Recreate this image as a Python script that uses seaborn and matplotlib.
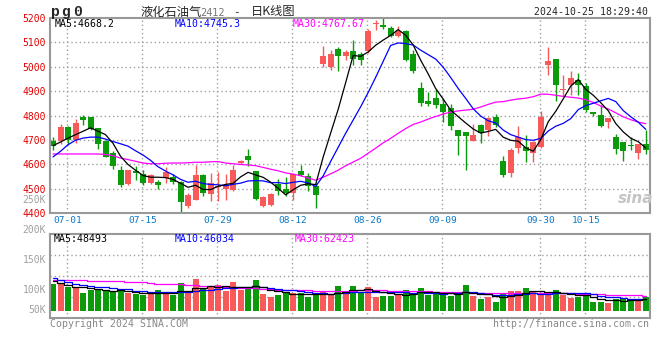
import numpy as np
import pandas as pd
import matplotlib
matplotlib.use("Agg")
import matplotlib.pyplot as plt
import matplotlib.transforms as mtransforms
import seaborn as sns

# pg0 daily bars, 2024-06-27 .. 2024-10-25 (80 trading days)
opens = [4697, 4697, 4752, 4701, 4793, 4793, 4751, 4695, 4646, 4579,
         4521, 4575, 4561, 4524, 4530, 4545, 4550, 4528, 4429, 4456,
         4558, 4479, 4508, 4500, 4497, 4604, 4636, 4575, 4429, 4436,
         4520, 4501, 4483, 4572, 4554, 4513, 5013, 4999, 5074, 5043,
         5066, 5054, 5063, 5176, 5170, 5158, 5127, 5145, 5054, 4913,
         4861, 4872, 4849, 4831, 4742, 4731, 4697, 4763, 4742, 4794,
         4616, 4565, 4666, 4671, 4647, 4671, 5006, 5031, 4906, 4926,
         4947, 4922, 4816, 4804, 4776, 4711, 4691, 4678, 4647, 4685]
highs = [4711, 4767, 4756, 4786, 4804, 4794, 4751, 4701, 4654, 4595,
         4579, 4595, 4579, 4561, 4535, 4588, 4562, 4531, 4483, 4599,
         4562, 4565, 4568, 4562, 4599, 4620, 4665, 4575, 4470, 4483,
         4542, 4547, 4562, 4599, 4565, 4524, 5086, 5070, 5082, 5070,
         5111, 5059, 5155, 5190, 5200, 5168, 5168, 5150, 5070, 4936,
         4895, 4909, 4872, 4849, 4742, 4731, 4766, 4766, 4794, 4808,
         4633, 4667, 4756, 4722, 4695, 4821, 5083, 5031, 4967, 4981,
         4974, 4933, 4816, 4845, 4789, 4725, 4691, 4712, 4685, 4742]
lows = [4658, 4685, 4681, 4688, 4760, 4742, 4663, 4631, 4581, 4508,
        4517, 4535, 4517, 4521, 4500, 4524, 4521, 4404, 4422, 4453,
        4470, 4452, 4452, 4453, 4493, 4600, 4592, 4453, 4425, 4431,
        4476, 4472, 4453, 4551, 4493, 4422, 4999, 4985, 4982, 5026,
        5009, 5006, 5056, 5152, 5155, 5122, 5122, 5025, 4975, 4838,
        4838, 4830, 4772, 4742, 4640, 4579, 4695, 4688, 4715, 4753,
        4549, 4547, 4647, 4609, 4609, 4667, 4965, 4858, 4879, 4886,
        4886, 4813, 4797, 4752, 4749, 4644, 4615, 4661, 4624, 4644]
closes = [4674, 4753, 4701, 4771, 4781, 4745, 4682, 4632, 4592, 4517,
          4576, 4565, 4524, 4557, 4517, 4568, 4527, 4446, 4475, 4558,
          4483, 4524, 4512, 4515, 4579, 4616, 4617, 4459, 4466, 4481,
          4490, 4483, 4562, 4558, 4511, 4474, 5045, 5054, 5043, 5059,
          5032, 5026, 5145, 5180, 5165, 5128, 5145, 5029, 4981, 4852,
          4848, 4845, 4813, 4756, 4718, 4718, 4722, 4729, 4790, 4760,
          4558, 4658, 4711, 4654, 4691, 4794, 5025, 4926, 4908, 4954,
          4926, 4824, 4805, 4756, 4789, 4663, 4654, 4675, 4685, 4661]

# price moving averages as drawn on the chart
ma5 = [4677, 4692, 4708, 4722, 4736, 4750.2, 4736, 4722.2, 4686.4, 4633.6,
       4599.8, 4576.4, 4554.8, 4547.8, 4547.8, 4546.2, 4538.6, 4523, 4506.6, 4514.8,
       4497.8, 4497.2, 4510.4, 4518.4, 4522.6, 4549.2, 4567.8, 4557.2, 4547.4, 4527.8,
       4502.6, 4475.8, 4496.4, 4514.8, 4520.8, 4517.6, 4630, 4728.4, 4825.4, 4935,
       5046.6, 5042.8, 5061, 5088.4, 5109.6, 5128.8, 5152.6, 5129.4, 5089.6, 5027,
       4971, 4911, 4867.8, 4822.8, 4796, 4770, 4745.4, 4728.6, 4735.4, 4743.8,
       4711.8, 4699, 4695.4, 4668.2, 4654.4, 4701.6, 4775, 4818, 4868.8, 4921.4,
       4947.8, 4907.6, 4883.4, 4853, 4820, 4767.4, 4733.4, 4707.4, 4693.2, 4667.6]
ma10 = [4631, 4654, 4681, 4699, 4708, 4712, 4712, 4704, 4694, 4684.8,
        4675, 4656.2, 4638.5, 4617.1, 4590.7, 4573, 4557.5, 4538.9, 4527.2, 4531.3,
        4522, 4517.9, 4516.7, 4512.5, 4518.7, 4523.5, 4532.5, 4533.8, 4532.9, 4525.2,
        4525.9, 4521.8, 4526.8, 4531.1, 4524.3, 4510.1, 4552.9, 4612.4, 4670.1, 4727.9,
        4782.1, 4836.4, 4894.7, 4956.9, 5022.3, 5087.7, 5097.7, 5095.2, 5089, 5068.3,
        5049.9, 5031.8, 4998.6, 4956.2, 4911.5, 4870.5, 4828.2, 4798.2, 4779.1, 4769.9,
        4740.9, 4722.2, 4712, 4701.8, 4699.1, 4706.7, 4737, 4756.7, 4768.5, 4787.9,
        4824.7, 4841.3, 4850.7, 4860.9, 4870.7, 4857.6, 4820.5, 4795.4, 4773.1, 4743.8]
ma30 = [4643, 4643, 4643, 4643, 4643, 4643, 4643, 4641, 4636, 4626,
        4620, 4613, 4606, 4603, 4603, 4605, 4606, 4606, 4607, 4609,
        4609, 4611, 4612, 4606, 4603, 4600, 4598, 4595, 4588, 4580.4,
        4574.3, 4565.3, 4560.7, 4553.6, 4544.6, 4535.5, 4547.6, 4561.7, 4576.7, 4594.8,
        4610, 4625.4, 4646.1, 4666.8, 4688.4, 4707.1, 4727.7, 4747.1, 4764, 4773.8,
        4786, 4796.7, 4806.7, 4814.7, 4819.4, 4822.8, 4826.3, 4835.3, 4846.1, 4855.4,
        4857.6, 4863.5, 4868.4, 4871.6, 4877.6, 4888.3, 4887.6, 4883.4, 4878.9, 4875.4,
        4871.8, 4865.1, 4853.8, 4839.6, 4827.1, 4811.6, 4795.2, 4783.4, 4773.6, 4767.2]

# volume (K, against the chart's own volume scale)
volumes = [110.5, 112.5, 105.8, 105.5, 95.5, 100.0, 101.6, 100.5, 96.6, 100.2,
           95.8, 94.0, 92.5, 94.5, 100.3, 96.8, 92.5, 112.2, 95.0, 118.8,
           102.7, 105.7, 108.9, 99.4, 113.5, 100.2, 102.7, 117.1, 93.9, 89.1,
           92.2, 95.0, 96.1, 95.5, 89.1, 91.8, 98.9, 92.2, 107.2, 94.1,
           107.2, 97.7, 105.2, 88.5, 91.0, 91.0, 93.5, 100.5, 94.1, 103.9,
           92.5, 95.7, 94.4, 90.8, 92.2, 108.9, 90.8, 85.2, 88.2, 80.8,
           95.5, 98.9, 98.9, 103.9, 97.8, 94.1, 92.7, 100.5, 92.7, 87.2,
           89.4, 91.3, 80.5, 80.5, 78.9, 86.1, 86.1, 86.1, 82.8, 88.8]
vol_ma5 = [115, 112, 108, 105, 106.0, 103.9, 101.7, 100.6, 98.8, 99.8,
           98.9, 97.4, 95.8, 95.4, 95.4, 95.6, 95.3, 99.3, 99.4, 103.1,
           104.2, 106.9, 106.2, 107.1, 106.0, 105.5, 104.9, 106.6, 105.5, 100.6,
           99.0, 97.5, 93.3, 93.6, 93.6, 93.5, 94.3, 93.5, 95.8, 96.8,
           99.9, 99.7, 102.3, 98.5, 97.9, 94.7, 93.8, 92.9, 94.0, 96.6,
           96.9, 97.3, 96.1, 95.5, 93.1, 96.4, 95.4, 93.6, 93.1, 90.8,
           88.1, 89.7, 92.5, 95.6, 99.0, 98.7, 97.5, 97.8, 95.6, 93.4,
           92.5, 92.2, 88.2, 85.8, 84.1, 83.5, 82.4, 83.5, 84.0, 86.0]
vol_ma10 = [120, 117, 113, 110, 108, 107, 106, 105, 104, 102.9,
            101.4, 99.6, 98.2, 97.1, 97.6, 97.3, 96.4, 97.5, 97.4, 99.2,
            99.9, 101.1, 102.7, 103.2, 104.6, 104.9, 105.9, 106.4, 106.3, 103.3,
            102.3, 101.2, 99.9, 99.5, 97.1, 96.3, 95.9, 93.4, 94.7, 95.2,
            96.7, 97.0, 97.9, 97.2, 97.4, 97.3, 96.8, 97.6, 96.3, 97.3,
            95.8, 95.6, 94.5, 94.7, 94.9, 96.7, 96.4, 94.9, 94.3, 92.0,
            92.3, 92.6, 93.0, 94.3, 94.9, 93.4, 93.6, 95.1, 95.6, 96.2,
            95.6, 94.9, 93.0, 90.7, 88.8, 88.0, 87.3, 85.9, 84.9, 85.1]
vol_ma30 = [117, 117, 117, 117, 117, 116, 115.5, 115.5, 115, 115,
            113.5, 113.3, 113, 112.5, 111, 110.5, 110.5, 110, 109, 108,
            107.5, 107, 106.5, 106, 105, 104.5, 104, 103.5, 102.5, 101.8,
            101.2, 100.6, 100.3, 100.0, 99.7, 99.5, 99.4, 99.1, 99.5, 99.3,
            99.6, 99.8, 100.2, 100.0, 99.7, 99.5, 99.5, 99.1, 99.1, 98.6,
            98.3, 97.9, 97.4, 97.2, 96.4, 96.7, 96.3, 95.3, 95.1, 94.8,
            94.9, 95.0, 95.1, 95.4, 95.7, 95.8, 95.6, 95.9, 95.4, 95.1,
            94.6, 94.3, 93.5, 93.2, 92.8, 92.7, 92.4, 92.0, 91.6, 91.1]

date_labels = ["07-01", "07-15", "07-29", "08-12", "08-26", "09-09", "09-30", "10-15"]
date_pos = [2, 12, 22, 32, 42, 52, 65, 71]
price_ticks = list(range(4400, 5300, 100))
vol_tick_labels = ["250K", "200K", "150K", "100K"]
vol_tick_vals = [250, 200, 150, 100]

sns.set_theme(style="white")
mono = "DejaVu Sans Mono"
cjk = ["Noto Sans CJK SC", "DejaVu Sans"]
plt.rcParams["font.family"] = [mono, "DejaVu Sans"]

up_color = "#f85a5a"
down_color = "#0a9a0a"
grid_kw = dict(color="#a0a0a0", linestyle=(0, (1, 2)), linewidth=1.0)
vol_base = 66  # volume bars start from the bottom of the bar area

df = pd.DataFrame({"open": opens, "high": highs, "low": lows,
                   "close": closes, "vol": volumes})
x = np.arange(len(df))
colors = np.where(df["close"] >= df["open"], up_color, down_color)

W, H = 660, 360
fig = plt.figure(figsize=(W / 100, H / 100), dpi=100)


def box(l, t, r, b):
    return [l / W, 1 - b / H, (r - l) / W, (b - t) / H]


def ftext(px, py, s, **kw):
    kw.setdefault("va", "center")
    kw.setdefault("fontsize", 7.1)
    fig.text(px / W, 1 - py / H, s, **kw)


ax = fig.add_axes(box(50, 18, 650, 213.3))
axv = fig.add_axes(box(50, 234.3, 650, 317.7))

# grid first so everything sits on top of it
for a, yt in ((ax, price_ticks), (axv, None)):
    for xp in date_pos:
        a.axvline(xp - 0.1, zorder=0, **grid_kw)

for yp in price_ticks[1:-1]:
    ax.axhline(yp, zorder=0, **grid_kw)

# candles
ax.vlines(x, df["low"], df["high"], colors=colors, lw=1, zorder=2)
body_lo = np.minimum(df["open"], df["close"])
body_h = np.maximum((df["close"] - df["open"]).abs(), 4)
ax.bar(x, body_h, bottom=body_lo, width=0.8, color=colors, linewidth=0, zorder=2)

sns.lineplot(x=x, y=np.array(ma30), color="#ff00ff", lw=0.9, ax=ax, zorder=3)
sns.lineplot(x=x, y=np.array(ma10), color="#0000ff", lw=0.9, ax=ax, zorder=3)
sns.lineplot(x=x, y=np.array(ma5), color="black", lw=0.9, ax=ax, zorder=3)

ax.set_xlim(-0.4, 79.56)
ax.set_ylim(4400, 5200)
ax.set_yticks(price_ticks)
ax.set_xticks(date_pos, date_labels)
ax.tick_params(axis="y", length=0, pad=3, labelsize=7, labelcolor="#e00000")
ax.tick_params(axis="x", length=0, pad=2, labelsize=6.8, labelcolor="#0a78c8")
ax.grid(False)
ax.set_xlabel("")
ax.set_ylabel("")

# volume
vlo, vhi = 54.3, 193.3
for f in (0.25, 0.5, 0.75):
    axv.axhline(vlo + f * (vhi - vlo), zorder=0, **grid_kw)
axv.bar(x, df["vol"] - vol_base, bottom=vol_base, width=0.8, color=colors,
        linewidth=0, zorder=2)
sns.lineplot(x=x, y=np.array(vol_ma30), color="#ff00ff", lw=0.9, drawstyle="steps-mid", ax=axv, zorder=3)
sns.lineplot(x=x, y=np.array(vol_ma10), color="#0000ff", lw=0.9, drawstyle="steps-mid", ax=axv, zorder=3)
sns.lineplot(x=x, y=np.array(vol_ma5), color="black", lw=0.9, drawstyle="steps-mid", ax=axv, zorder=3)
axv.set_xlim(-0.4, 79.56)
axv.set_ylim(vlo, vhi)
axv.set_yticks([])
axv.set_xticks([])
axv.grid(False)
axv.set_xlabel("")
axv.set_ylabel("")

for a in (ax, axv):
    for s in a.spines.values():
        s.set_color("#999999")
        s.set_linewidth(1.5)
        s.set_zorder(4)

# volume scale labels (drawn left of the panel, as in the original)
tr = mtransforms.blended_transform_factory(fig.transFigure, axv.transData)
for lab, v in zip(vol_tick_labels, vol_tick_vals):
    axv.text(46 / W, v, lab, transform=tr, ha="right", va="center",
             fontsize=7, color="#a0a0a0", clip_on=False)
axv.text(46 / W, vol_base + 1, "50K", transform=tr, ha="right", va="center",
         fontsize=7, color="#a0a0a0", clip_on=False)

# header
for ch, px in zip("pg0", [55, 66, 77.3]):
    ftext(px, 12, ch, ha="center", fontsize=10.5, weight="bold", family="Liberation Mono")
ftext(140, 12, "液化石油气", family=cjk, fontsize=8.8)
ftext(200, 12.5, "2412", color="#777777", fontsize=7.4)
ftext(233, 12, "-", fontsize=8)
ftext(251, 12, "日K线图", family=cjk, fontsize=8.8)
ftext(648, 12, "2024-10-25 18:29:40", ha="right")

ftext(55, 24, "MA5:4668.2", color="black")
ftext(175, 24, "MA10:4745.3", color="#0000ff")
ftext(293, 24, "MA30:4767.67", color="#ff00ff")

ftext(54, 238.5, "MA5:48493", color="black")
ftext(175, 238.5, "MA10:46034", color="#0000ff")
ftext(295, 238.5, "MA30:62423", color="#ff00ff")

ftext(50, 324, "Copyright 2024 SINA.COM", color="#888888")
ftext(649, 324, "http://finance.sina.com.cn", ha="right", color="#888888")
ftext(636, 198, "sina", ha="center", color="#c4c4c4", fontsize=11,
      style="italic", weight="bold", family="DejaVu Sans")

fig.savefig("out.png", dpi=100)
